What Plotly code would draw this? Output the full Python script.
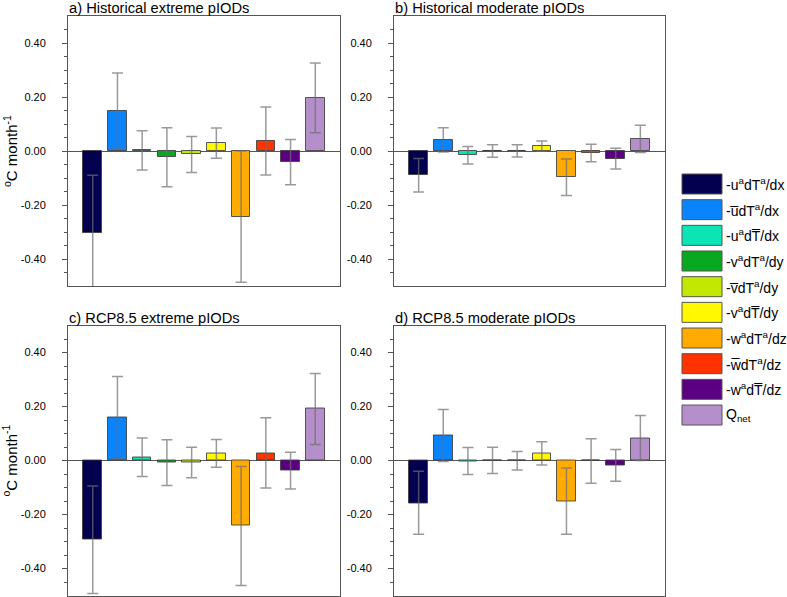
import plotly.graph_objects as go

# ---------------- data ----------------
terms = [
    "-u<sup>a</sup>dT<sup>a</sup>/dx",
    "-u\u0305dT<sup>a</sup>/dx",
    "-u<sup>a</sup>dT\u0305/dx",
    "-v<sup>a</sup>dT<sup>a</sup>/dy",
    "-v\u0305dT<sup>a</sup>/dy",
    "-v<sup>a</sup>dT\u0305/dy",
    "-w<sup>a</sup>dT<sup>a</sup>/dz",
    "-w\u0305dT<sup>a</sup>/dz",
    "-w<sup>a</sup>dT\u0305/dz",
    "Q<sub>net</sub>",
]
colors = ["#03004f", "#0a84fd", "#0be5b5", "#08a91e", "#c2e800",
          "#fff800", "#ffab00", "#ff3200", "#5b0082", "#b48fca"]
positions = list(range(1, 11))

panel_titles = ["a) Historical extreme pIODs", "b) Historical moderate pIODs",
                "c) RCP8.5 extreme pIODs", "d) RCP8.5 moderate pIODs"]

# composite means
hist_ext = [-0.304, 0.148, 0.003, -0.022, -0.012, 0.028, -0.244, 0.037, -0.041, 0.196]
hist_mod = [-0.090, 0.041, -0.015, -0.001, 0.001, 0.019, -0.098, -0.007, -0.028, 0.044]
rcp_ext = [-0.293, 0.159, 0.011, -0.009, -0.007, 0.026, -0.242, 0.027, -0.037, 0.191]
rcp_mod = [-0.158, 0.093, -0.002, 0.000, -0.001, 0.027, -0.152, -0.001, -0.017, 0.083]

# error-bar upper / lower limits
hist_ext_hi = [-0.090, 0.289, 0.075, 0.086, 0.054, 0.085, 0.000, 0.163, 0.043, 0.326]
hist_ext_lo = [-0.540, 0.007, -0.070, -0.132, -0.080, -0.027, -0.486, -0.089, -0.125, 0.068]
hist_mod_hi = [-0.028, 0.086, 0.017, 0.023, 0.023, 0.037, -0.030, 0.025, 0.010, 0.095]
hist_mod_lo = [-0.152, -0.004, -0.048, -0.023, -0.022, -0.001, -0.165, -0.040, -0.067, -0.006]
rcp_ext_hi = [-0.094, 0.311, 0.083, 0.077, 0.049, 0.078, -0.022, 0.158, 0.031, 0.322]
rcp_ext_lo = [-0.493, 0.007, -0.059, -0.093, -0.064, -0.025, -0.463, -0.102, -0.106, 0.059]
rcp_mod_hi = [-0.040, 0.189, 0.048, 0.049, 0.033, 0.069, -0.028, 0.081, 0.041, 0.167]
rcp_mod_lo = [-0.273, -0.004, -0.052, -0.048, -0.035, -0.017, -0.273, -0.084, -0.077, 0.000]

tick_vals = [-0.4, -0.2, 0.0, 0.2, 0.4]
tick_text = ["-0.40", "-0.20", "0.00", "0.20", "0.40"]
minor_vals = [-0.45, -0.35, -0.3, -0.25, -0.15, -0.1, -0.05,
              0.05, 0.1, 0.15, 0.25, 0.3, 0.35, 0.45]
y_title = "<sup>o</sup>C month<sup>-1</sup>"

# ---------------- figure ----------------
W, H = 787, 597
FONT = "Liberation Sans, Arial, Helvetica, sans-serif"

def px_x(p):
    return p / W

def px_y(p):
    return 1 - p / H

x_doms = [[px_x(68), px_x(340)], [px_x(394), px_x(665)]]
y_doms = [[px_y(286), px_y(16)], [px_y(595.5), px_y(325.5)]]

panels = [
    (hist_ext, hist_ext_hi, hist_ext_lo),
    (hist_mod, hist_mod_hi, hist_mod_lo),
    (rcp_ext, rcp_ext_hi, rcp_ext_lo),
    (rcp_mod, rcp_mod_hi, rcp_mod_lo),
]

fig = go.Figure()
layout = dict(
    width=W, height=H,
    margin=dict(l=0, r=0, t=0, b=0),
    paper_bgcolor="white", plot_bgcolor="white",
    showlegend=False,
    font=dict(family=FONT, color="black"),
    bargap=0,
)
annotations = []
shapes = []

for k, (vals, hi, lo) in enumerate(panels):
    row, col = divmod(k, 2)
    n = k + 1
    xa = "x" if n == 1 else f"x{n}"
    ya = "y" if n == 1 else f"y{n}"
    err_plus = [h - v for h, v in zip(hi, vals)]
    err_minus = [v - l for v, l in zip(vals, lo)]
    fig.add_trace(go.Bar(
        x=positions, y=vals, width=0.75,
        marker=dict(color=colors, line=dict(color="rgba(60,60,60,0.85)", width=1)),
        error_y=dict(type="data", symmetric=False, array=err_plus, arrayminus=err_minus,
                     color="rgba(110,110,110,0.7)", thickness=1.5, width=5.5),
        xaxis=xa, yaxis=ya,
    ))
    layout["xaxis" if n == 1 else f"xaxis{n}"] = dict(
        domain=x_doms[col], range=[0, 11], showticklabels=False, ticks="",
        showgrid=False, zeroline=False, showline=True, mirror=True,
        linecolor="#555555", linewidth=1, anchor=ya, fixedrange=True,
    )
    layout["yaxis" if n == 1 else f"yaxis{n}"] = dict(
        domain=y_doms[row], range=[-0.5, 0.5], tickmode="array",
        tickvals=tick_vals, ticktext=tick_text, ticks="outside", ticklen=5,
        tickcolor="#555555", tickfont=dict(size=11, family=FONT, color="black"),
        ticklabelstandoff=14,
        minor=dict(tickmode="array", tickvals=minor_vals, ticks="outside",
                   ticklen=3, tickcolor="#555555", showgrid=False),
        showgrid=False, zeroline=True, zerolinecolor="#555555", zerolinewidth=1,
        showline=True, mirror=True, linecolor="#555555", linewidth=1,
        anchor=xa, fixedrange=True,
    )
    annotations.append(dict(
        text=panel_titles[k], x=x_doms[col][0], y=y_doms[row][1],
        xref="paper", yref="paper", xanchor="left", yanchor="bottom",
        showarrow=False, font=dict(size=14.7, family=FONT), xshift=-1, yshift=-2,
    ))
    if col == 0:
        annotations.append(dict(
            text=y_title, x=px_x(10), y=(y_doms[row][0] + y_doms[row][1]) / 2,
            xref="paper", yref="paper", xanchor="center", yanchor="middle",
            textangle=-90, showarrow=False, font=dict(size=15, family=FONT),
        ))

# legend drawn as boxes + labels
box_l, box_r = 682, 722
first_top, step, box_h = 174, 25.67, 20
for i, (name, c) in enumerate(zip(terms, colors)):
    top = first_top + i * step
    shapes.append(dict(
        type="rect", xref="paper", yref="paper",
        x0=px_x(box_l), x1=px_x(box_r), y0=px_y(top + box_h), y1=px_y(top),
        fillcolor=c, line=dict(color="#555555", width=1),
    ))
    annotations.append(dict(
        text=name, x=px_x(box_r + 2), y=px_y(top + box_h / 2),
        xref="paper", yref="paper", xanchor="left", yanchor="middle",
        showarrow=False, font=dict(size=14, family=FONT),
    ))

layout["annotations"] = annotations
layout["shapes"] = shapes
fig.update_layout(**layout)
fig.write_html(
    "out.html",
    config={"displayModeBar": False},
    post_script="document.body.style.margin='0';document.body.style.overflow='hidden';",
)
